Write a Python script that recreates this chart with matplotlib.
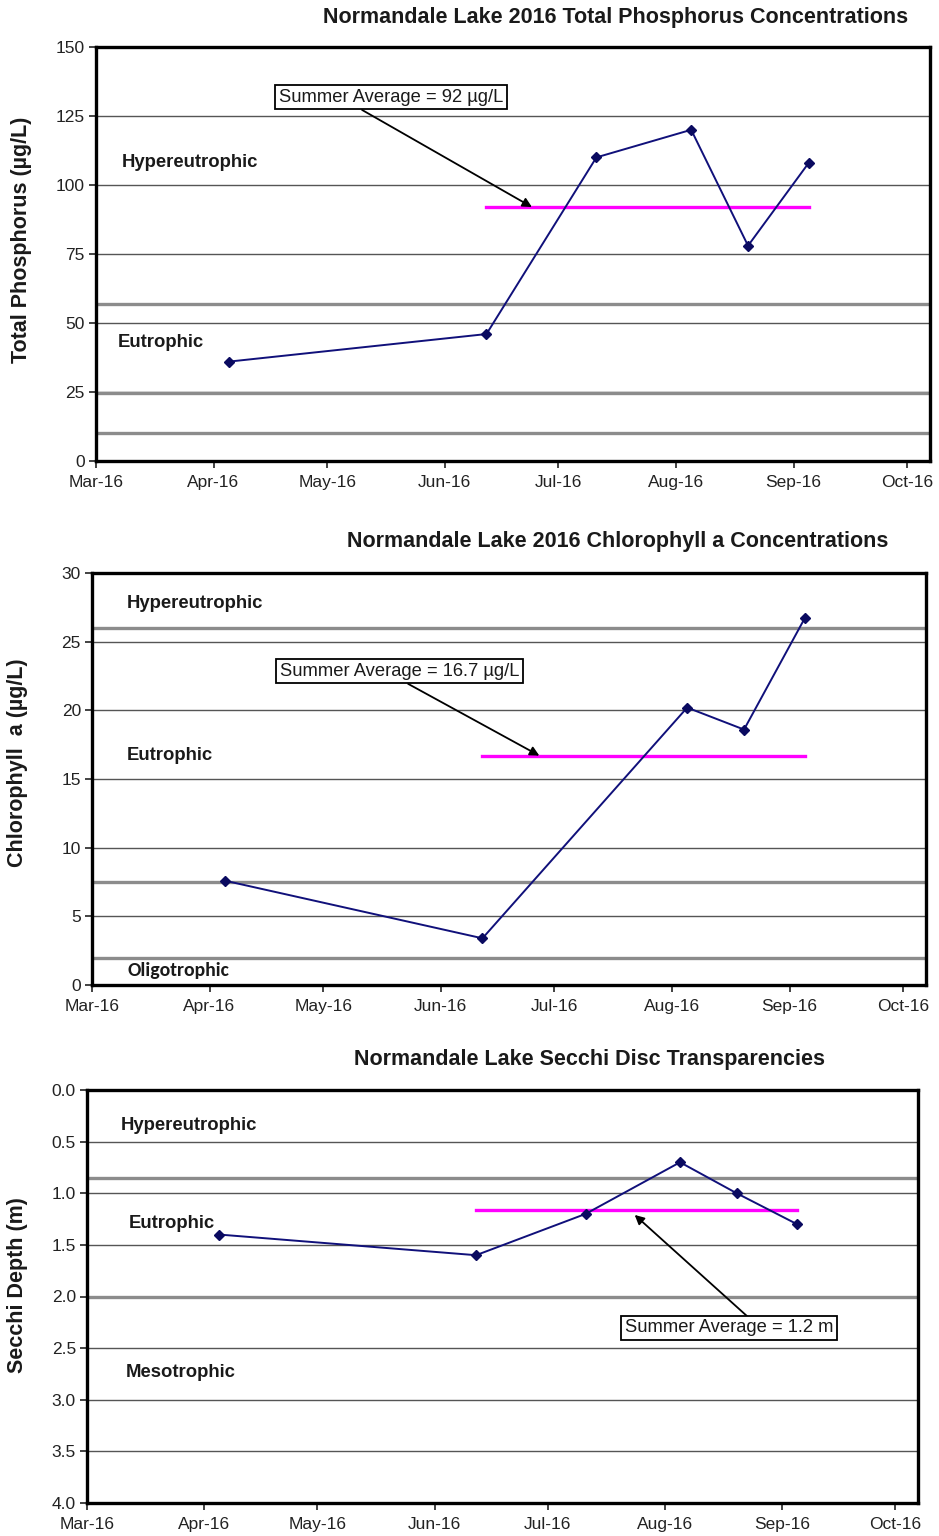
import matplotlib
matplotlib.use("Agg")
import matplotlib.pyplot as plt
import matplotlib.dates as mdates
import numpy as np
import pandas as pd

plt.rcParams['font.family'] = ['Liberation Sans', 'DejaVu Sans']

# ---------------- data ----------------
tp_dates = ["2016-04-05", "2016-06-12", "2016-07-11", "2016-08-05", "2016-08-20", "2016-09-05"]
tp_values = [36, 46, 110, 120, 78, 108]
tp_avg = 92
tp_thresholds = [57, 24.5, 10]

chl_dates = ["2016-04-05", "2016-06-12", "2016-08-05", "2016-08-20", "2016-09-05"]
chl_values = [7.6, 3.4, 20.2, 18.6, 26.7]
chl_avg = 16.7
chl_thresholds = [26, 7.5, 2]

sd_dates = ["2016-04-05", "2016-06-12", "2016-07-11", "2016-08-05", "2016-08-20", "2016-09-05"]
sd_values = [1.4, 1.6, 1.2, 0.7, 1.0, 1.3]
sd_avg = 1.16
sd_thresholds = [0.85, 2.0]

summer_span = ["2016-06-12", "2016-09-05"]
x_range = ["2016-03-01", "2016-10-07"]

titles = ["Normandale Lake 2016 Total Phosphorus Concentrations",
          "Normandale Lake 2016 Chlorophyll a Concentrations",
          "Normandale Lake Secchi Disc Transparencies"]
ylabels = ["Total Phosphorus (µg/L)", "Chlorophyll  a (µg/L)", "Secchi Depth (m)"]
avg_labels = ["Summer Average = 92 µg/L", "Summer Average = 16.7 µg/L", "Summer Average = 1.2 m"]

# ---------------- figure ----------------
W, H = 939, 1536
fig = plt.figure(figsize=(W / 100, H / 100), dpi=100)

def fa(l, t, r, b):
    return [l / W, 1 - b / H, (r - l) / W, (b - t) / H]

ax1 = fig.add_axes(fa(96, 47, 930, 461))
ax2 = fig.add_axes(fa(92, 573, 926, 985))
ax3 = fig.add_axes(fa(87, 1090, 918, 1503))

xr = pd.to_datetime(x_range)
span = pd.to_datetime(summer_span)

NAVY = '#10107a'
GRID = '#555555'
TROPH = '#8c8c8c'

def style(ax, ylim, yticks, fmt):
    ax.set_xlim(xr[0], xr[1])
    ax.set_ylim(*ylim)
    ax.set_yticks(yticks)
    ax.set_yticklabels([fmt(v) for v in yticks])
    ax.xaxis.set_major_locator(mdates.MonthLocator())
    ax.xaxis.set_major_formatter(mdates.DateFormatter('%b-%y'))
    for s in ax.spines.values():
        s.set_linewidth(2.4)
        s.set_color('black')
    ax.tick_params(axis='both', direction='out', length=5, width=1.2,
                   labelsize=12.5, colors='#222222', pad=3)
    ax.tick_params(axis='x', pad=5)
    for v in yticks:
        if v not in (min(ylim), max(ylim)):
            ax.axhline(v, color=GRID, lw=1.0, zorder=1)

def series(ax, dates, vals, avg, thresholds):
    for t in thresholds:
        ax.axhline(t, color=TROPH, lw=2.4, zorder=1.5)
    ax.plot(span, [avg, avg], color='#ff00ff', lw=2.4, zorder=2)
    ax.plot(pd.to_datetime(dates), vals, color=NAVY, lw=1.4, marker='D',
            markersize=5.5, markerfacecolor='#0a0a60', markeredgecolor='#0a0a60', zorder=3)

def label(ax, x, y, s, family=None, size=13.3):
    kw = dict(transform=ax.transAxes, fontsize=size, fontweight='bold', va='center', ha='left',
              color='#1a1a1a')
    if family:
        kw['family'] = family
    ax.text(x, y, s, **kw)

def avgbox(ax, bx, by, tx, ty, hx, hy, s):
    ax.text(bx, by, s, transform=ax.transAxes, ha='center', va='center', fontsize=13.2,
            color='#1a1a1a',
            bbox=dict(boxstyle='square,pad=0.2', fc='white', ec='black', lw=1.3), zorder=5)
    ax.annotate('', xy=(pd.Timestamp(hx), hy), xycoords='data',
                xytext=(tx, ty), textcoords='axes fraction',
                arrowprops=dict(arrowstyle='-|>,head_length=0.55,head_width=0.28', color='black',
                                lw=1.3, shrinkA=0, shrinkB=0), zorder=4)

# --- TP ---
style(ax1, (0, 150), np.arange(0, 151, 25), lambda v: f"{v:d}")
series(ax1, tp_dates, tp_values, tp_avg, tp_thresholds)
label(ax1, 0.031, 0.72, "Hypereutrophic")
label(ax1, 0.026, 0.287, "Eutrophic")
avgbox(ax1, 0.354, 0.879, 0.319, 0.848, "2016-06-24", tp_avg, avg_labels[0])

# --- Chl ---
style(ax2, (0, 30), np.arange(0, 31, 5), lambda v: f"{v:d}")
series(ax2, chl_dates, chl_values, chl_avg, chl_thresholds)
label(ax2, 0.042, 0.925, "Hypereutrophic")
label(ax2, 0.042, 0.558, "Eutrophic")
label(ax2, 0.043, 0.036, "Oligotrophic", family=['Carlito', 'Open Sans', 'DejaVu Sans'], size=14.2)
avgbox(ax2, 0.369, 0.762, 0.379, 0.731, "2016-06-27", chl_avg, avg_labels[1])

# --- Secchi ---
style(ax3, (4, 0), np.arange(0, 4.01, 0.5), lambda v: f"{v:.1f}")
series(ax3, sd_dates, sd_values, sd_avg, sd_thresholds)
label(ax3, 0.041, 0.913, "Hypereutrophic")
label(ax3, 0.05, 0.676, "Eutrophic")
label(ax3, 0.047, 0.317, "Mesotrophic")
avgbox(ax3, 0.773, 0.424, 0.794, 0.453, "2016-07-24", 1.21, avg_labels[2])

# titles & y labels
title_pos = [(616, 18), (618, 542), (590, 1060)]
for (x, y), t in zip(title_pos, titles):
    fig.text(x / W, 1 - y / H, t, ha='center', va='center', fontsize=15.5, fontweight='bold',
             color='#1a1a1a')
ylab_pos = [(22, 240), (18, 763), (18, 1285)]
for (x, y), t in zip(ylab_pos, ylabels):
    fig.text(x / W, 1 - y / H, t, ha='center', va='center', rotation=90, fontsize=15.5,
             fontweight='bold', color='#1a1a1a')

fig.savefig("out.png", dpi=100)
